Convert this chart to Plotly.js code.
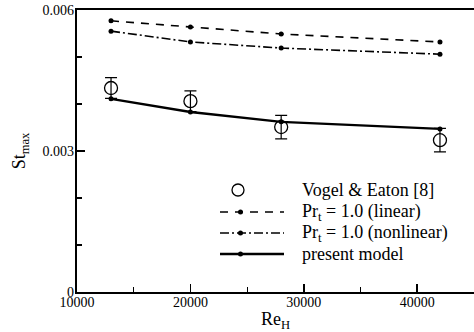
<!DOCTYPE html>
<html>
<head>
<meta charset="utf-8">
<script src="https://cdn.plot.ly/plotly-3.0.1.min.js"></script>
<style>html,body{margin:0;padding:0;background:#fff;}#chart{width:474px;height:332px;}</style>
</head>
<body>
<div id="chart"></div>
<script>
// Data
var reynolds = [13000, 20000, 28000, 42000];
var vogelEaton = [0.00434, 0.00406, 0.00351, 0.00323];
var vogelError = [0.00022, 0.00022, 0.00025, 0.00025];
var prtLinear = [0.00577, 0.00564, 0.00549, 0.00532];
var prtNonlinear = [0.00555, 0.00532, 0.00519, 0.00506];
var presentModel = [0.00411, 0.00383, 0.00362, 0.00347];

var seriesNames = ['Vogel &amp; Eaton [8]', 'Pr<sub>t</sub> = 1.0 (linear)', 'Pr<sub>t</sub> = 1.0 (nonlinear)', 'present model'];
var yTickVals = [0, 0.003, 0.006];
var yTickText = ['0', '0.003', '0.006'];
var xTickVals = [10000, 20000, 30000, 40000];
var xTickText = ['10000', '20000', '30000', '40000'];

var serif = '"Liberation Serif", "Times New Roman", Times, serif';

var styles = [
  {mode: 'markers', line: null},
  {mode: 'lines+markers', line: {color: '#000', width: 1.6, dash: '8px,7px'}},
  {mode: 'lines+markers', line: {color: '#000', width: 1.6, dash: '9px,3px,2px,3px'}},
  {mode: 'lines+markers', line: {color: '#000', width: 2.4, dash: 'solid'}}
];

var traces = [
  {
    x: reynolds, y: vogelEaton, name: seriesNames[0], type: 'scatter', mode: 'markers',
    marker: {symbol: 'circle-open', size: 13, color: '#000', line: {width: 1.3, color: '#000'}},
    error_y: {type: 'data', array: vogelError, visible: true, color: '#000', thickness: 1.2, width: 6}
  },
  {
    x: reynolds, y: prtLinear, name: seriesNames[1], type: 'scatter', mode: styles[1].mode,
    line: styles[1].line, marker: {symbol: 'circle', size: 5, color: '#000'}
  },
  {
    x: reynolds, y: prtNonlinear, name: seriesNames[2], type: 'scatter', mode: styles[2].mode,
    line: styles[2].line, marker: {symbol: 'circle', size: 5, color: '#000'}
  },
  {
    x: reynolds, y: presentModel, name: seriesNames[3], type: 'scatter', mode: styles[3].mode,
    line: styles[3].line, marker: {symbol: 'circle', size: 5, color: '#000'}
  }
];

// Custom legend (long line samples as in the reference), placed in pixel terms
var plotL = 77, plotR = 474, plotT = 10, plotB = 292;
function px2x(p) { return (p - plotL) / (plotR - plotL); }
function px2y(p) { return (plotB - p) / (plotB - plotT); }
var legendRowsPx = [190, 212, 233, 254];
var shapes = [];
var annotations = [];
for (var i = 0; i < seriesNames.length; i++) {
  var yy = px2y(legendRowsPx[i]);
  if (i === 0) {
    shapes.push({type: 'circle', xref: 'paper', yref: 'paper',
      x0: px2x(232), x1: px2x(244), y0: px2y(legendRowsPx[i] + 6), y1: px2y(legendRowsPx[i] - 6),
      line: {color: '#000', width: 1.3}, fillcolor: 'rgba(0,0,0,0)'});
  } else {
    shapes.push({type: 'line', xref: 'paper', yref: 'paper',
      x0: px2x(220), x1: px2x(284), y0: yy, y1: yy,
      line: {color: '#000', width: styles[i].line.width, dash: styles[i].line.dash}});
    shapes.push({type: 'circle', xref: 'paper', yref: 'paper',
      x0: px2x(238), x1: px2x(243), y0: px2y(legendRowsPx[i] + 2.5), y1: px2y(legendRowsPx[i] - 2.5),
      line: {color: '#000', width: 0}, fillcolor: '#000'});
  }
  annotations.push({xref: 'paper', yref: 'paper', x: px2x(300), y: yy, xanchor: 'left', yanchor: 'middle',
    text: seriesNames[i], showarrow: false, font: {family: serif, size: 18, color: '#000'}});
}

var layout = {
  width: 474, height: 332,
  margin: {l: 77, r: 0, t: 10, b: 40},
  paper_bgcolor: '#fff', plot_bgcolor: '#fff',
  showlegend: false,
  font: {family: serif, color: '#000', size: 13},
  shapes: shapes,
  annotations: annotations,
  xaxis: {
    range: [10000, 45000],
    tickvals: xTickVals, ticktext: xTickText,
    ticks: 'inside', ticklen: 8, tickwidth: 1.8, tickcolor: '#000',
    minor: {dtick: 5000, tick0: 10000, ticks: 'inside', ticklen: 5, tickwidth: 1.2, tickcolor: '#000', showgrid: false},
    showgrid: false, zeroline: false,
    showline: true, linecolor: '#000', linewidth: 2.2, mirror: true,
    tickfont: {family: serif, size: 14, color: '#000'},
    ticklabelstandoff: -4,
    title: {text: 'Re<sub>H</sub>', font: {family: serif, size: 18, color: '#000'}, standoff: 0}
  },
  yaxis: {
    range: [0, 0.006],
    tickvals: yTickVals, ticktext: yTickText,
    ticks: 'inside', ticklen: 8, tickwidth: 2.2, tickcolor: '#000',
    minor: {dtick: 0.001, tick0: 0, ticks: 'inside', ticklen: 5, tickwidth: 1.2, tickcolor: '#000', showgrid: false},
    showgrid: false, zeroline: false,
    showline: true, linecolor: '#000', linewidth: 2.2, mirror: true,
    tickfont: {family: serif, size: 14, color: '#000'},
    ticklabelstandoff: -2,
    title: {text: 'St<sub>max</sub>', font: {family: serif, size: 18, color: '#000'}, standoff: 12}
  }
};

Plotly.newPlot('chart', traces, layout, {displayModeBar: false, staticPlot: true});
</script>
</body>
</html>
